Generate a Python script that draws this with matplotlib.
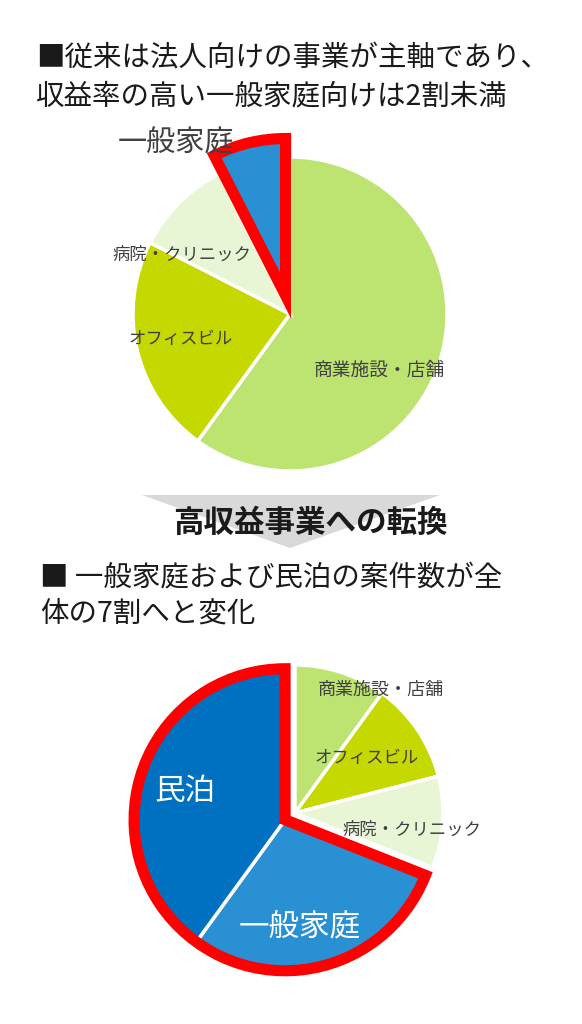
import numpy as np
import matplotlib.pyplot as plt

plt.rcParams['font.family'] = ['Noto Sans CJK JP', 'DejaVu Sans']

# before: top pie
before_labels = ['商業施設・店舗', 'オフィスビル', '病院・クリニック', '一般家庭']
before_values = [60, 22.5, 10, 7.5]
before_colors = ['#bde371', '#c5d800', '#e9f6d5', '#2a90d4']

# after: bottom pie
after_labels = ['商業施設・店舗', 'オフィスビル', '病院・クリニック', '一般家庭', '民泊']
after_values = [10, 11, 10, 29, 40]
after_colors = ['#bde371', '#c5d800', '#e9f6d5', '#2a90d4', '#0070c0']

title_top = ['■従来は法人向けの事業が主軸であり、', '収益率の高い一般家庭向けは2割未満']
title_bottom = ['■ 一般家庭および民泊の案件数が全', '体の7割へと変化']
arrow_text = '高収益事業への転換'

W, H = 582, 1024


def Y(y):
    # image pixel row -> data y (axes are in pixels, y up)
    return H - y


fig = plt.figure(figsize=(W / 100, H / 100), dpi=100)
ax = fig.add_axes([0, 0, 1, 1])

edge = dict(edgecolor='white', linewidth=2.5)

# ---- top pie
top_c = (290, Y(314))
top_r = 157
wedges, _ = ax.pie(before_values, colors=before_colors, startangle=90,
                   counterclock=False, radius=top_r, center=top_c,
                   explode=[0, 0, 0, 19], wedgeprops=edge)
wedges[3].set_edgecolor('#ff0000')
wedges[3].set_linewidth(8)
wedges[3].set_zorder(3)

# ---- bottom pie
bot_c = np.array([295, Y(813)])
bot_r = 148
n_green = 3
green_sum = sum(after_values[:n_green])
blue_sum = sum(after_values[n_green:])
total = sum(after_values)
mid = np.deg2rad(90 - 360 * (green_sum + blue_sum / 2) / total)
shift = bot_c + 12 * np.array([np.cos(mid), np.sin(mid)])

w1, _ = ax.pie(after_values, colors=after_colors, startangle=90,
               counterclock=False, radius=bot_r, center=bot_c, wedgeprops=edge)
for w in w1[n_green:]:
    w.set_visible(False)

w2, _ = ax.pie(after_values, colors=after_colors, startangle=90,
               counterclock=False, radius=bot_r, center=shift, wedgeprops=edge)
for w in w2[:n_green]:
    w.set_visible(False)

w3, _ = ax.pie([green_sum, blue_sum], startangle=90, counterclock=False,
               radius=bot_r + 3, center=shift,
               wedgeprops=dict(fill=False, edgecolor='#ff0000', linewidth=8))
w3[0].set_visible(False)
w3[1].set_zorder(3)

# ---- arrow between the pies
ax.fill([142, 440, 290], [Y(495), Y(495), Y(548)], color='#d9d9d9', lw=0, zorder=1)
ax.text(310, Y(523), arrow_text, fontsize=22, fontweight='bold', color='#1a1a1a',
        ha='center', va='center', zorder=5)

# ---- titles
ax.text(36, Y(58), title_top[0], fontsize=20.5, color='#1a1a1a', ha='left', va='center')
ax.text(36, Y(96), title_top[1], fontsize=20.5, color='#1a1a1a', ha='left', va='center')
ax.text(40, Y(578), title_bottom[0], fontsize=20.5, color='#1a1a1a', ha='left', va='center')
ax.text(40, Y(614), title_bottom[1], fontsize=20.5, color='#1a1a1a', ha='left', va='center')

# ---- pie labels
lab = dict(color='#404040', ha='center', va='center', zorder=5)
ax.text(379, Y(370), before_labels[0], fontsize=13.5, **lab)
ax.text(181, Y(339), before_labels[1], fontsize=12.5, **lab)
ax.text(182, Y(255), before_labels[2], fontsize=12.5, **lab)
ax.text(176, Y(143), before_labels[3], fontsize=21, **lab)

ax.text(381, Y(690), after_labels[0], fontsize=13, **lab)
ax.text(367, Y(758), after_labels[1], fontsize=12.5, **lab)
ax.text(412, Y(830), after_labels[2], fontsize=12.5, **lab)
ax.text(300, Y(927), after_labels[3], fontsize=22, color='white',
        ha='center', va='center', zorder=5)
ax.text(185, Y(792), after_labels[4], fontsize=22, color='white',
        ha='center', va='center', zorder=5)

ax.set_xlim(0, W)
ax.set_ylim(0, H)
ax.set_aspect('equal')
ax.axis('off')

fig.savefig('out.png', dpi=100)
